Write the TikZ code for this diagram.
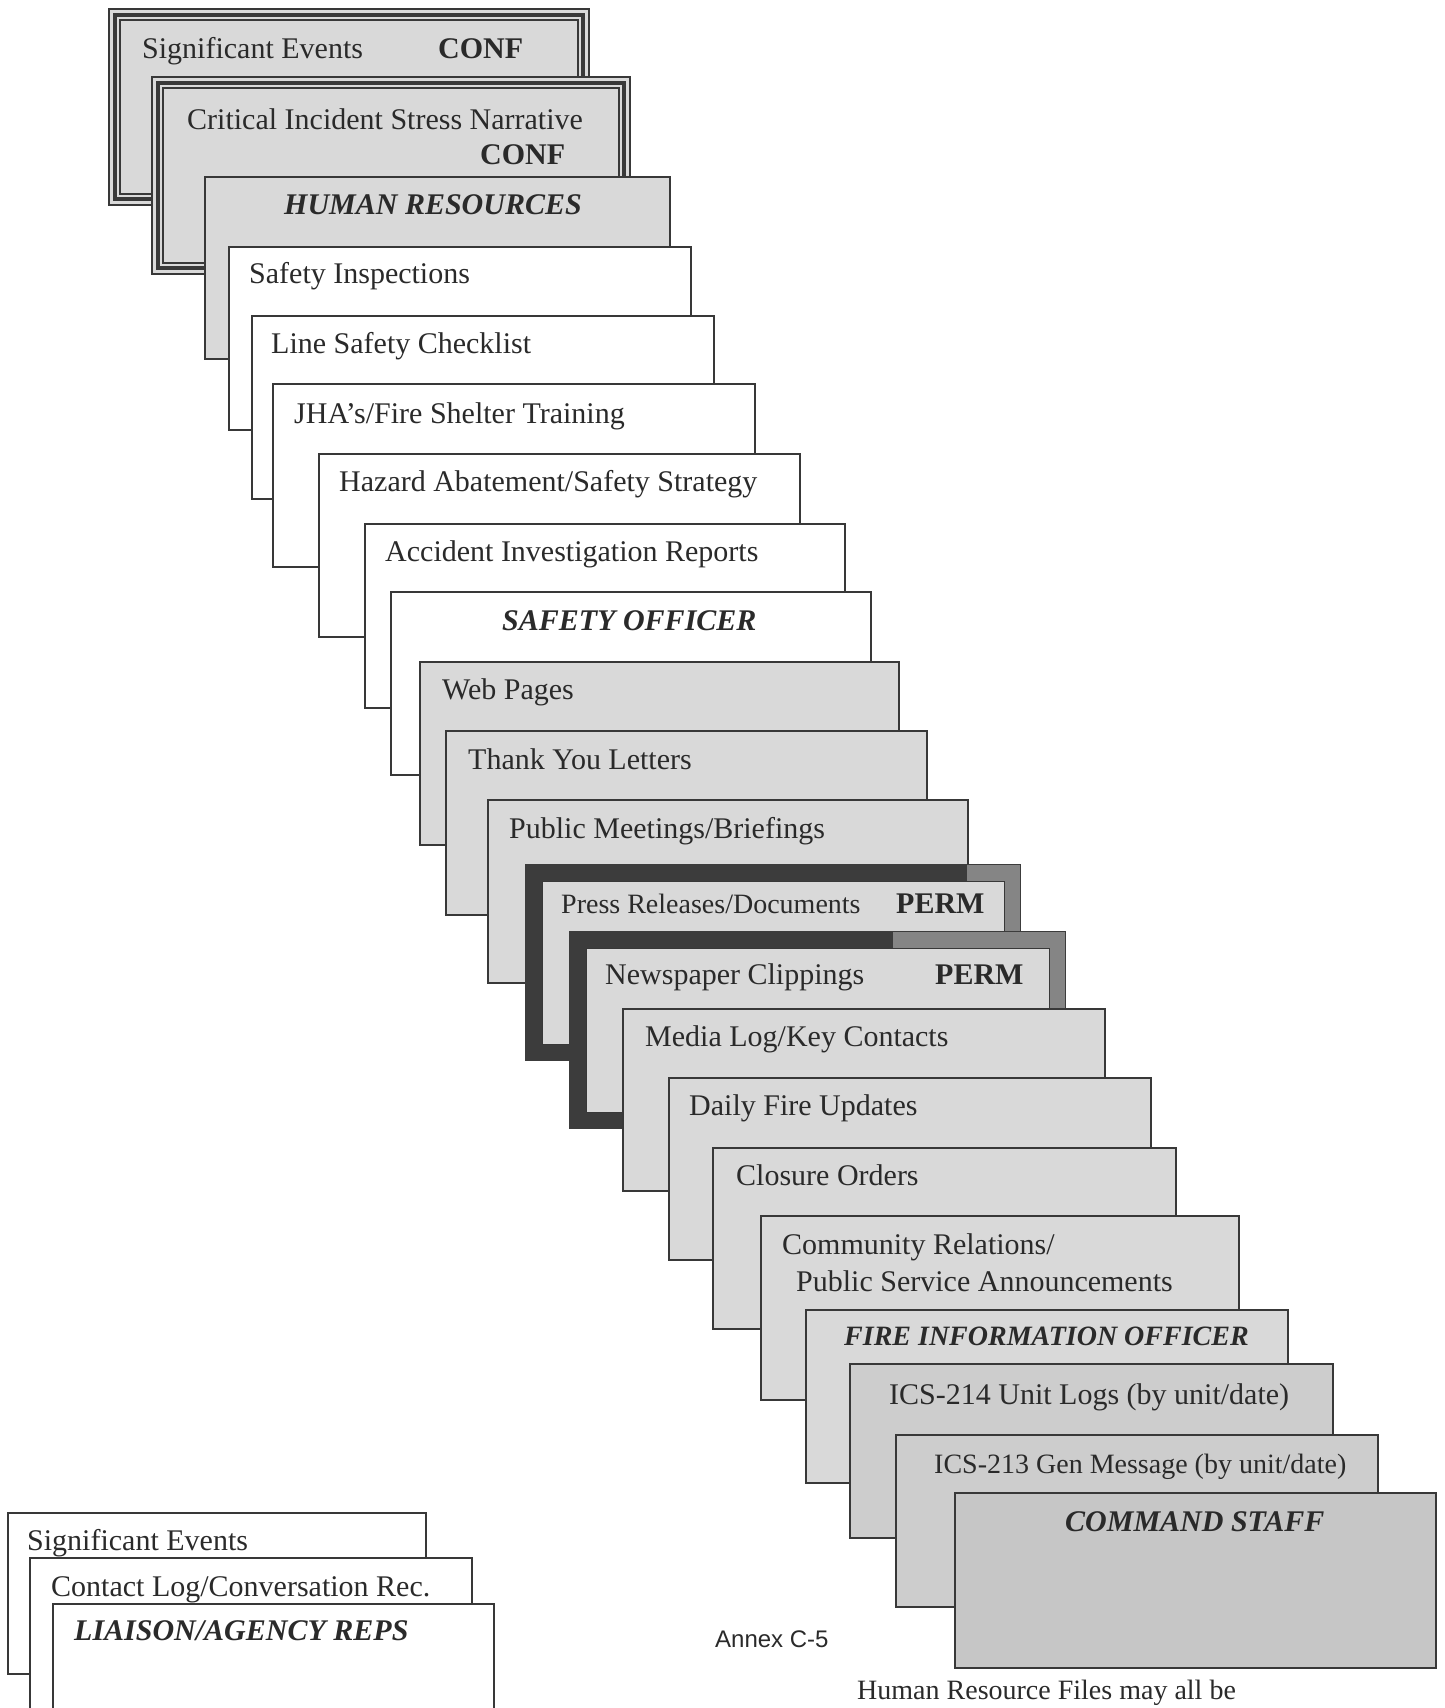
\documentclass[tikz,border=0pt]{standalone}
\usepackage{fontspec}
\setmainfont{Liberation Serif}
\newfontfamily\annexfont{Liberation Sans}
\definecolor{edge}{HTML}{383838}
\definecolor{ink}{HTML}{2A2A2A}
\definecolor{paper}{HTML}{D9D9D9}
\definecolor{paperdark}{HTML}{CDCDCD}
\definecolor{paperdarker}{HTML}{C6C6C6}
\definecolor{framedark}{HTML}{3C3C3C}
\definecolor{framegray}{HTML}{858585}

\begin{document}
\begin{tikzpicture}[x=1pt, y=-1pt,
    card/.style = {draw=edge, line width=1.8pt, anchor=north west, inner sep=0pt, outer sep=0pt},
    plain/.style = {card, fill=white},
    shade/.style = {card, fill=paper},
    lbl/.style = {anchor=base west, inner sep=0pt, text=ink, font=\fontsize{30}{34}\selectfont},
    head/.style = {lbl, font=\fontsize{30}{34}\selectfont\bfseries\itshape},
    tag/.style = {lbl, font=\fontsize{30}{34}\selectfont\bfseries}]
    \useasboundingbox (0,0) rectangle (1444,1708);
    \clip (0,0) rectangle (1444,1708);

    \node[shade, minimum width=480pt, minimum height=196pt] (sigconf) at (109,9) {};
    \draw[edge, line width=3.5pt] ([shift={(6,6)}]sigconf.north west) rectangle ([shift={(-6,-6)}]sigconf.south east);
    \draw[edge, line width=1.5pt] ([shift={(11,11)}]sigconf.north west) rectangle ([shift={(-11,-11)}]sigconf.south east);
    \node[lbl] (sigconf-t) at (142,58) {Significant Events};
    \node[tag] (sigconf-c) at (438,58) {CONF};

    \node[shade, minimum width=478pt, minimum height=197pt] (cisn) at (152,77) {};
    \draw[edge, line width=3.5pt] ([shift={(6,6)}]cisn.north west) rectangle ([shift={(-6,-6)}]cisn.south east);
    \draw[edge, line width=1.5pt] ([shift={(11,11)}]cisn.north west) rectangle ([shift={(-11,-11)}]cisn.south east);
    \node[lbl] (cisn-t) at (187,129) {Critical Incident Stress Narrative};
    \node[tag] (cisn-c) at (480,164) {CONF};

    \node[shade, minimum width=465pt, minimum height=182pt] (hr) at (205,177) {};
    \node[head] (hr-t) at (284,214) {HUMAN RESOURCES};

    \node[plain, minimum width=462pt, minimum height=183pt] (safinsp) at (229,247) {};
    \node[lbl] (safinsp-t) at (249,283) {Safety Inspections};
    \node[plain, minimum width=462pt, minimum height=183pt] (linesafe) at (252,316) {};
    \node[lbl] (linesafe-t) at (271,353) {Line Safety Checklist};
    \node[plain, minimum width=482pt, minimum height=183pt] (jha) at (273,384) {};
    \node[lbl] (jha-t) at (294,423) {JHA’s/Fire Shelter Training};
    \node[plain, minimum width=481pt, minimum height=183pt] (hazard) at (319,454) {};
    \node[lbl] (hazard-t) at (339,491) {Hazard Abatement/Safety Strategy};
    \node[plain, minimum width=480pt, minimum height=184pt] (accident) at (365,524) {};
    \node[lbl] (accident-t) at (385,561) {Accident Investigation Reports};
    \node[plain, minimum width=480pt, minimum height=183pt] (safeoff) at (391,592) {};
    \node[head] (safeoff-t) at (502,630) {SAFETY OFFICER};

    \node[shade, minimum width=479pt, minimum height=183pt] (web) at (420,662) {};
    \node[lbl] (web-t) at (442,699) {Web Pages};
    \node[shade, minimum width=481pt, minimum height=184pt] (thanks) at (446,731) {};
    \node[lbl] (thanks-t) at (468,769) {Thank You Letters};
    \node[shade, minimum width=480pt, minimum height=183pt] (meetings) at (488,800) {};
    \node[lbl] (meetings-t) at (509,838) {Public Meetings/Briefings};

    % permanent files, heavy frame
    \node[card, draw=framedark, fill=framedark, minimum width=494pt, minimum height=195pt] (press) at (526,865) {};
    \fill[framegray] (967,865) rectangle (press.south east);
    \node[shade, line width=1pt, minimum width=462pt, minimum height=163pt] (press-in) at (542,881) {};
    \node[lbl, font=\fontsize{28}{32}\selectfont] (press-t) at (561,913) {Press Releases/Documents};
    \node[tag] (press-c) at (896,913) {PERM};

    \node[card, draw=framedark, fill=framedark, minimum width=495pt, minimum height=196pt] (clips) at (570,932) {};
    \fill[framegray] (893,932) rectangle (clips.south east);
    \node[shade, line width=1pt, minimum width=463pt, minimum height=164pt] (clips-in) at (586,948) {};
    \node[lbl] (clips-t) at (605,984) {Newspaper Clippings};
    \node[tag] (clips-c) at (935,984) {PERM};

    \node[shade, minimum width=482pt, minimum height=182pt] (medialog) at (623,1009) {};
    \node[lbl] (medialog-t) at (645,1046) {Media Log/Key Contacts};
    \node[shade, minimum width=482pt, minimum height=182pt] (updates) at (669,1078) {};
    \node[lbl] (updates-t) at (689,1115) {Daily Fire Updates};
    \node[shade, minimum width=463pt, minimum height=181pt] (closure) at (713,1148) {};
    \node[lbl] (closure-t) at (736,1185) {Closure Orders};
    \node[shade, minimum width=478pt, minimum height=184pt] (community) at (761,1216) {};
    \node[lbl] (community-t) at (782,1254) {Community Relations/};
    \node[lbl] (community-u) at (796,1291) {Public Service Announcements};
    \node[shade, minimum width=482pt, minimum height=173pt] (fio) at (806,1310) {};
    \node[head, font=\fontsize{28}{32}\selectfont\bfseries\itshape] (fio-t) at (844,1345) {FIRE INFORMATION OFFICER};

    \node[shade, fill=paperdark, minimum width=483pt, minimum height=174pt] (ics214) at (850,1364) {};
    \node[lbl] (ics214-t) at (889,1404) {ICS-214 Unit Logs (by unit/date)};
    \node[shade, fill=paperdark, minimum width=482pt, minimum height=172pt] (ics213) at (896,1435) {};
    \node[lbl, font=\fontsize{28}{32}\selectfont] (ics213-t) at (934,1473) {ICS-213 Gen Message (by unit/date)};
    \node[shade, fill=paperdarker, minimum width=481pt, minimum height=175pt] (cmdstaff) at (955,1493) {};
    \node[head] (cmdstaff-t) at (1065,1531) {COMMAND STAFF};

    % liaison stack
    \node[plain, minimum width=418pt, minimum height=161pt] (lsig) at (8,1513) {};
    \node[lbl] (lsig-t) at (27,1550) {Significant Events};
    \node[plain, minimum width=442pt, minimum height=200pt] (contact) at (30,1558) {};
    \node[lbl] (contact-t) at (51,1596) {Contact Log/Conversation Rec.};
    \node[plain, minimum width=441pt, minimum height=200pt] (liaison) at (53,1604) {};
    \node[head] (liaison-t) at (74,1640) {LIAISON/AGENCY REPS};

    \node[lbl, font=\annexfont\fontsize{24}{28}\selectfont] (annex) at (715,1647) {Annex C-5};
    \node[lbl, font=\fontsize{28}{32}\selectfont] (note) at (857,1699) {Human Resource Files may all be};
\end{tikzpicture}
\end{document}
